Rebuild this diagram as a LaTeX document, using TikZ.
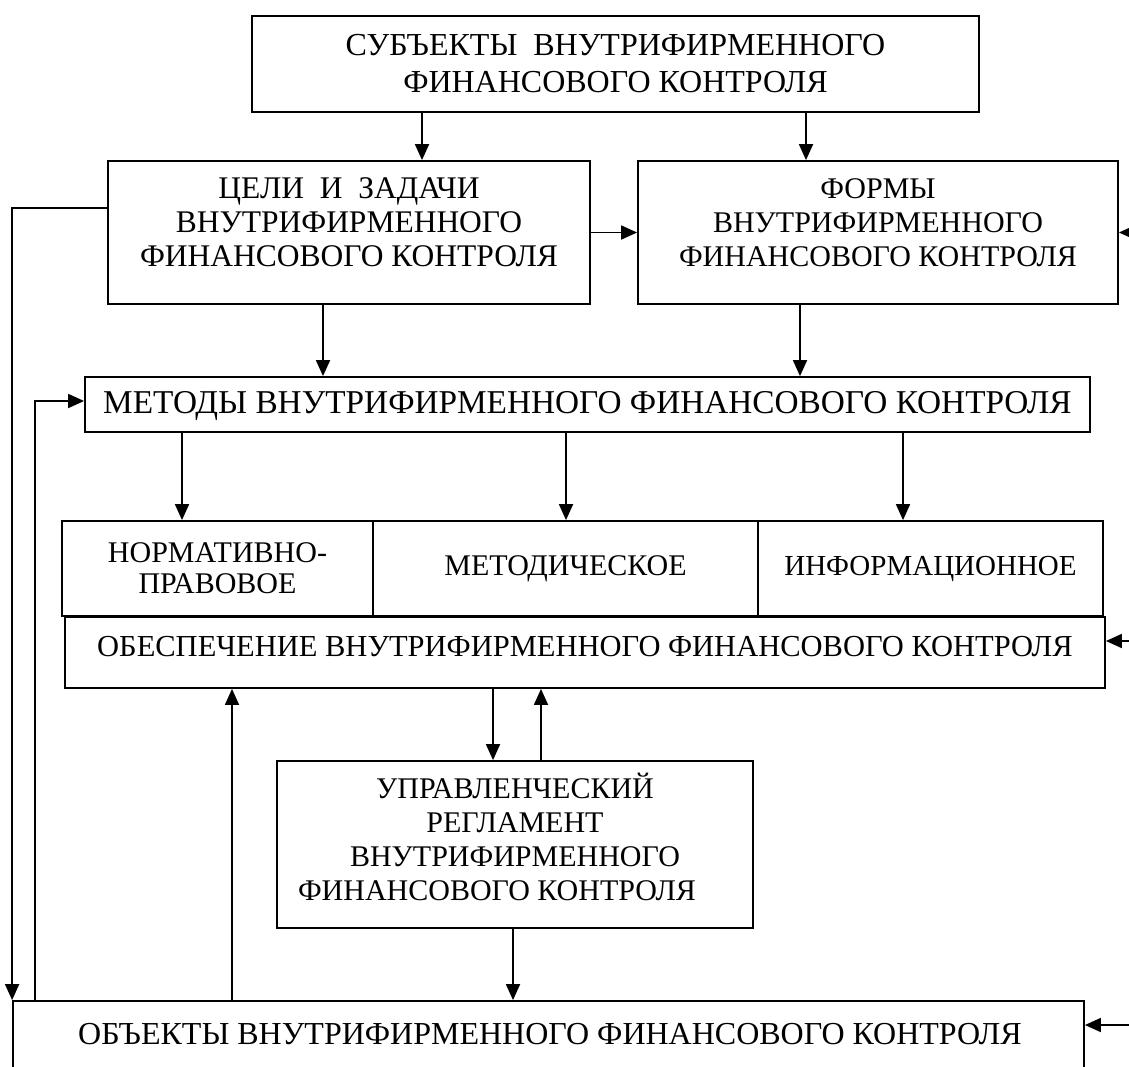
\documentclass[tikz,border=0pt]{standalone}
\usepackage{fontspec}
\setmainfont{Liberation Serif}
\usetikzlibrary{arrows.meta,calc}
\begin{document}
\begin{tikzpicture}[x=1pt,y=-1pt,
  box/.style={draw, line width=1.8pt, inner sep=0pt},
  txt/.style={inner sep=0pt, align=center, font=\fontsize{30}{34}\selectfont},
  arr/.style={line width=1.8pt, -{Triangle[length=16pt,width=14pt]}}]
\clip (0,0) rectangle (1129,1066);
\fill[white] (0,0) rectangle (1129,1066);
% boxes
\node[box, minimum width=727pt, minimum height=96pt] (subj) at (615.5,64) {};
\node[txt, font=\fontsize{32}{37}\selectfont] (subjT) at (subj)
  {СУБЪЕКТЫ\ \ ВНУТРИФИРМЕННОГО\\ФИНАНСОВОГО КОНТРОЛЯ};
\node[box, minimum width=482pt, minimum height=143pt] (goals) at (349,232.5) {};
\node[txt, yshift=10pt, font=\fontsize{31.5}{34}\selectfont] (goalsT) at (goals)
  {ЦЕЛИ\ \ И\ \ ЗАДАЧИ\\ВНУТРИФИРМЕННОГО\\ФИНАНСОВОГО КОНТРОЛЯ};
\node[box, minimum width=480pt, minimum height=143pt] (forms) at (878,232.5) {};
\node[txt, yshift=10pt] (formsT) at (forms)
  {ФОРМЫ\\ВНУТРИФИРМЕННОГО\\ФИНАНСОВОГО КОНТРОЛЯ};
\node[box, minimum width=1005pt, minimum height=55pt] (methods) at (587.5,404.5) {};
\node[txt, yshift=-2pt, font=\fontsize{33.3}{38}\selectfont] (methodsT) at (methods)
  {МЕТОДЫ ВНУТРИФИРМЕННОГО ФИНАНСОВОГО КОНТРОЛЯ};
\node[box, minimum width=311pt, minimum height=95pt] (norm) at (217.5,568.5) {};
\node[txt, font=\fontsize{30}{31}\selectfont] (normT) at (norm) {НОРМАТИВНО-\\ПРАВОВОЕ};
\node[box, minimum width=385pt, minimum height=95pt] (metod) at (565.5,568.5) {};
\node[txt] (metodT) at (metod) {МЕТОДИЧЕСКОЕ};
\node[box, minimum width=345pt, minimum height=95pt] (inform) at (930.5,568.5) {};
\node[txt, font=\fontsize{29}{34}\selectfont] (informT) at (inform) {ИНФОРМАЦИОННОЕ};
\node[box, minimum width=1040pt, minimum height=71pt] (obesp) at (585,652.5) {};
\node[txt, yshift=6pt, font=\fontsize{30.5}{34}\selectfont] (obespT) at (obesp)
  {ОБЕСПЕЧЕНИЕ ВНУТРИФИРМЕННОГО ФИНАНСОВОГО КОНТРОЛЯ};
\node[box, minimum width=476pt, minimum height=167pt] (upr) at (515,844.5) {};
\node[txt, yshift=8pt] (uprT) at (upr)
  {УПРАВЛЕНЧЕСКИЙ\\РЕГЛАМЕНТ\\ВНУТРИФИРМЕННОГО\\ФИНАНСОВОГО КОНТРОЛЯ\hspace*{36pt}};
\node[box, minimum width=1071pt, minimum height=130pt] (obj) at (548.5,1066) {};
\node[txt, font=\fontsize{32}{34}\selectfont, anchor=base] (objT) at (550,1044)
  {ОБЪЕКТЫ ВНУТРИФИРМЕННОГО ФИНАНСОВОГО КОНТРОЛЯ};
% x/y helper coordinates
\coordinate (x422) at (422,0);
\coordinate (x806) at (806,0);
\coordinate (x323) at (323,0);
\coordinate (x800) at (800,0);
\coordinate (x182) at (182,0);
\coordinate (x566) at (566,0);
\coordinate (x903) at (903,0);
\coordinate (x493) at (493,0);
\coordinate (x541) at (541,0);
\coordinate (x513) at (513,0);
\coordinate (x232) at (232,0);
\coordinate (x35) at (35,0);
\coordinate (y208) at (0,208);
\coordinate (y401) at (0,401);
\coordinate (rA) at (1129,232.5);
\coordinate (rB) at (1129,641);
\coordinate (rC) at (1129,1025);
% connectors
\draw[arr] (subj.south -| x422) -- (goals.north -| x422);
\draw[arr] (subj.south -| x806) -- (forms.north -| x806);
\draw[arr] (goals.east) -- (forms.west);
\draw[arr] (rA) -- (forms.east);
\draw[arr] (goals.west |- y208) -| (obj.north west);
\draw[arr] (obj.north -| x35) |- (methods.west |- y401);
\draw[arr] (goals.south -| x323) -- (methods.north -| x323);
\draw[arr] (forms.south -| x800) -- (methods.north -| x800);
\draw[arr] (methods.south -| x182) -- (norm.north -| x182);
\draw[arr] (methods.south -| x566) -- (metod.north -| x566);
\draw[arr] (methods.south -| x903) -- (inform.north -| x903);
\draw[arr] (rB) -- (obesp.east |- rB);
\draw[arr] (obesp.south -| x493) -- (upr.north -| x493);
\draw[arr] (upr.north -| x541) -- (obesp.south -| x541);
\draw[arr] (upr.south -| x513) -- (obj.north -| x513);
\draw[arr] (obj.north -| x232) -- (obesp.south -| x232);
\draw[arr] (rC) -- (obj.east |- rC);
\end{tikzpicture}
\end{document}
